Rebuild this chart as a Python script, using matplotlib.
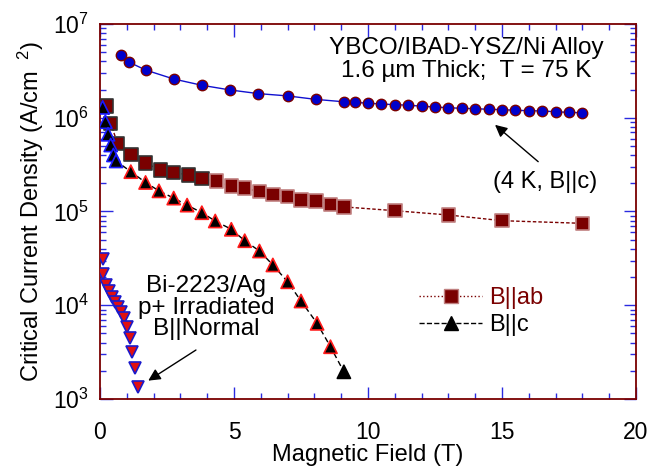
import matplotlib
matplotlib.use("Agg")
import matplotlib.pyplot as plt
from matplotlib.lines import Line2D
from matplotlib.ticker import LogLocator, MultipleLocator, NullFormatter

plt.rcParams["font.family"] = ["Liberation Sans", "DejaVu Sans"]
plt.rcParams["mathtext.fontset"] = "custom"
plt.rcParams["mathtext.rm"] = "Liberation Sans"
plt.rcParams["mathtext.it"] = "Liberation Sans:italic"
plt.rcParams["mathtext.bf"] = "Liberation Sans:bold"

# YBCO, 4 K, B||c
b_4k = [0.8, 1.1, 1.7, 2.75, 3.8, 4.85, 5.9, 7.0, 8.05, 9.1, 9.5, 10.0, 10.5, 11.0,
        11.5, 12.0, 12.5, 13.0, 13.5, 14.0, 14.5, 15.0, 15.5, 16.0, 16.5, 17.0, 17.5, 18.0]
jc_4k = [4.67e6, 3.9e6, 3.23e6, 2.59e6, 2.22e6, 1.98e6, 1.81e6, 1.71e6, 1.57e6, 1.48e6,
         1.46e6, 1.43e6, 1.40e6, 1.38e6, 1.36e6, 1.33e6, 1.30e6, 1.28e6, 1.26e6, 1.25e6,
         1.23e6, 1.22e6, 1.20e6, 1.19e6, 1.18e6, 1.16e6, 1.14e6, 1.13e6]

# YBCO, 75 K, B||ab
b_ab = [0.25, 0.4, 0.65, 1.15, 1.7, 2.25, 2.75, 3.3, 3.8, 4.35, 4.9, 5.4, 5.95, 6.45,
        7.0, 7.5, 8.05, 8.6, 9.1, 11.0, 13.0, 15.0, 18.0]
jc_ab = [1.33e6, 8.73e5, 5.34e5, 4.07e5, 3.27e5, 2.77e5, 2.62e5, 2.45e5, 2.26e5, 2.11e5,
         1.87e5, 1.77e5, 1.63e5, 1.52e5, 1.44e5, 1.33e5, 1.30e5, 1.19e5, 1.12e5, 1.02e5,
         9.18e4, 7.98e4, 7.48e4]

# YBCO, 75 K, B||c
b_c = [0.1, 0.2, 0.3, 0.4, 0.5, 0.6, 1.15, 1.7, 2.2, 2.75, 3.25, 3.8, 4.3, 4.9, 5.4,
       5.95, 6.45, 7.0, 7.5, 8.1, 8.6, 9.1]
jc_c = [1.29e6, 9.07e5, 6.66e5, 5.12e5, 4.01e5, 3.46e5, 2.66e5, 2.04e5, 1.66e5, 1.39e5,
        1.17e5, 9.71e4, 7.92e4, 6.46e4, 4.88e4, 3.79e4, 2.69e4, 1.78e4, 1.11e4, 6.41e3,
        3.61e3, 1.95e3]

# Bi-2223/Ag, p+ irradiated, B||Normal
b_bi = [0.1, 0.12, 0.22, 0.35, 0.46, 0.56, 0.68, 0.78, 0.91, 1.0, 1.12, 1.2, 1.31, 1.43]
jc_bi = [3.09e4, 2.14e4, 1.64e4, 1.42e4, 1.23e4, 1.09e4, 9.66e3, 8.53e3, 7.26e3, 5.91e3,
         4.44e3, 3.20e3, 2.13e3, 1.33e3]

maroon = "#7a0000"
tick_blue = "#2a2ae0"
fs = 17

fig = plt.figure(figsize=(6.6, 4.68), dpi=100)
ax = fig.add_axes([100 / 660, 1 - 399 / 468, 536 / 660, 375 / 468])

ax.plot(b_4k, jc_4k, "-", color="#1010d0", lw=1.0, marker="o", ms=7.5,
        mfc="#0000cc", mec=maroon, mew=1.0, zorder=3)

ax.plot(b_ab, jc_ab, color=maroon, lw=1.0, ls=(0, (2.5, 1.5)), zorder=2)
ab_edges = ["#333333"] * 9 + ["#c08080"] * (len(b_ab) - 9)
ax.scatter(b_ab, jc_ab, marker="s", s=95, c=maroon, edgecolors=ab_edges,
           linewidths=1.2, zorder=3)

ax.plot(b_c, jc_c, color="black", lw=1.0, ls=(0, (4, 2.5)), zorder=2)
c_edges = ["#1a1aff"] * 6 + ["#ff1a1a"] * (len(b_c) - 7) + ["black"]
ax.scatter(b_c, jc_c, marker="^", s=90, c="black", edgecolors=c_edges,
           linewidths=1.2, zorder=4)

ax.plot(b_bi, jc_bi, ls="none", marker="v", ms=9, mfc="#e01010", mec="#1a1acc",
        mew=1.2, zorder=3)

ax.set_yscale("log")
ax.set_xlim(0, 20)
ax.set_ylim(1e3, 1e7)
ax.xaxis.set_major_locator(MultipleLocator(5))
ax.xaxis.set_minor_locator(MultipleLocator(1))
ax.yaxis.set_major_locator(LogLocator(base=10, numticks=10))
ax.yaxis.set_minor_locator(LogLocator(base=10, subs=range(2, 10), numticks=10))
ax.yaxis.set_minor_formatter(NullFormatter())

for s in ax.spines.values():
    s.set_color(maroon)
    s.set_linewidth(1.3)

ax.tick_params(which="both", direction="in", top=True, right=True, color=tick_blue,
               labelsize=16.5, width=1.0)
ax.tick_params(which="major", length=9)
ax.tick_params(which="minor", length=4)
ax.tick_params(axis="x", pad=16)
ax.tick_params(axis="y", pad=8)

ax.set_xlabel("Magnetic Field (T)", fontsize=fs, labelpad=0)
ax.set_ylabel("Critical Current Density (A/cm $^{\\ 2}$)", fontsize=fs, labelpad=5)

ax.text(0.683, 0.905, "YBCO/IBAD-YSZ/Ni Alloy\n1.6 \u00b5m Thick;  T = 75 K",
        transform=ax.transAxes, ha="center", va="center", fontsize=17.5,
        linespacing=1.1)

# (4 K, B||c) label and arrow
ax.text(16.6, 2.07e5, "(4 K, B||c)", ha="center", va="center", fontsize=fs)
ax.annotate("", xy=(14.74, 8.4e5), xytext=(16.35, 3.4e5),
            arrowprops=dict(arrowstyle="-|>", color="black", lw=1.0,
                            mutation_scale=18, shrinkA=0, shrinkB=0))

# Bi-2223 label and arrow
ax.text(3.96, 9.4e3, "Bi-2223/Ag\np+ Irradiated\nB||Normal", ha="center",
        va="center", fontsize=17.5, linespacing=0.96)
ax.annotate("", xy=(1.8, 1.57e3), xytext=(3.58, 3.33e3),
            arrowprops=dict(arrowstyle="-|>", color="black", lw=1.0,
                            mutation_scale=18, shrinkA=0, shrinkB=0))

handles = [
    Line2D([], [], color=maroon, ls=":", lw=1.0, marker="s", ms=10, mfc=maroon,
           mec="#c08080"),
    Line2D([], [], color="black", ls="--", lw=1.0, marker="^", ms=10, mfc="black",
           mec="black"),
]
leg = ax.legend(handles, ["B||ab", "B||c"], loc="upper left",
                bbox_to_anchor=(0.555, 0.355), frameon=False, fontsize=fs,
                handlelength=2.7, handletextpad=0.3, labelspacing=0.2)
leg.get_texts()[0].set_color(maroon)

fig.savefig("out.png", dpi=100)
